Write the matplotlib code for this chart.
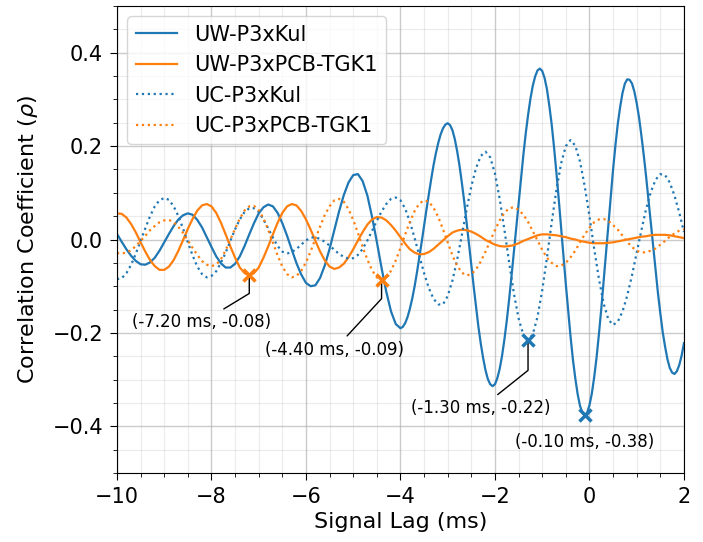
import numpy as np
import matplotlib
matplotlib.use("Agg")
import matplotlib.pyplot as plt
from matplotlib.ticker import MultipleLocator

# lag grid, 0.1 ms steps from -10 to 2 ms
lag = np.round(np.arange(-100, 21) / 10, 1)
# finer grid (0.05 ms) used for the large-amplitude part of UW-P3xKul
lag_fine = np.round(np.arange(-80, 41) / 20, 2)

# UW-P3xKul: -10.0 .. -4.1 (0.1 step), then -4.0 .. 2.0 (0.05 step)
uw_kul_early = [
    0.012, -0.005, -0.021, -0.035, -0.046, -0.053, -0.054, -0.049, -0.039, -0.024,
    -0.006, 0.012, 0.029, 0.043, 0.052, 0.056, 0.053, 0.042, 0.026, 0.005,
    -0.016, -0.036, -0.051, -0.060, -0.060, -0.052, -0.036, -0.014, 0.011, 0.035,
    0.056, 0.069, 0.075, 0.071, 0.057, 0.035, 0.008, -0.022, -0.051, -0.075,
    -0.093, -0.100, -0.098, -0.082, -0.055, -0.020, 0.020, 0.060, 0.095, 0.122,
    0.138, 0.140, 0.125, 0.094, 0.048, -0.005, -0.061, -0.112, -0.154, -0.181,
]
uw_kul_late = [
    -0.190, -0.187, -0.179, -0.166, -0.148, -0.126, -0.100, -0.070, -0.038, -0.005,
    0.030, 0.064, 0.097, 0.129, 0.159, 0.185, 0.207, 0.225, 0.238, 0.246,
    0.249, 0.245, 0.234, 0.215, 0.189, 0.158, 0.121, 0.081, 0.037, -0.009,
    -0.056, -0.101, -0.145, -0.187, -0.223, -0.254, -0.280, -0.299, -0.310, -0.314,
    -0.310, -0.297, -0.277, -0.249, -0.214, -0.174, -0.128, -0.079, -0.027, 0.026,
    0.079, 0.131, 0.180, 0.226, 0.266, 0.301, 0.329, 0.349, 0.362, 0.366,
    0.361, 0.346, 0.322, 0.287, 0.247, 0.198, 0.144, 0.086, 0.025, -0.035,
    -0.096, -0.153, -0.208, -0.257, -0.297, -0.331, -0.356, -0.371, -0.376, -0.371,
    -0.355, -0.330, -0.295, -0.253, -0.203, -0.149, -0.089, -0.028, 0.033, 0.093,
    0.150, 0.202, 0.248, 0.284, 0.314, 0.334, 0.343, 0.342, 0.334, 0.317,
    0.292, 0.261, 0.222, 0.180, 0.134, 0.084, 0.033, -0.018, -0.068, -0.115,
    -0.158, -0.198, -0.229, -0.256, -0.275, -0.285, -0.288, -0.282, -0.269, -0.249,
    -0.222,
]

uw_pcb = [
    0.056, 0.055, 0.047, 0.033, 0.015, -0.006, -0.026, -0.044, -0.057, -0.065,
    -0.065, -0.058, -0.044, -0.024, -0.001, 0.023, 0.044, 0.062, 0.073, 0.076,
    0.071, 0.057, 0.036, 0.011, -0.015, -0.039, -0.060, -0.072, -0.077, -0.072,
    -0.060, -0.039, -0.015, 0.011, 0.036, 0.057, 0.071, 0.076, 0.073, 0.061,
    0.043, 0.021, -0.003, -0.026, -0.045, -0.058, -0.063, -0.060, -0.052, -0.038,
    -0.021, -0.002, 0.016, 0.032, 0.043, 0.048, 0.047, 0.041, 0.031, 0.019,
    0.005, -0.009, -0.021, -0.028, -0.032, -0.031, -0.027, -0.020, -0.011, -0.002,
    0.007, 0.015, 0.019, 0.021, 0.020, 0.017, 0.012, 0.006, -0.001, -0.006,
    -0.011, -0.014, -0.015, -0.014, -0.012, -0.008, -0.003, 0.001, 0.005, 0.009,
    0.011, 0.011, 0.010, 0.009, 0.007, 0.005, 0.002, 0.000, -0.003, -0.005,
    -0.007, -0.008, -0.008, -0.008, -0.007, -0.006, -0.004, -0.002, 0.000, 0.002,
    0.004, 0.006, 0.007, 0.009, 0.010, 0.010, 0.010, 0.009, 0.007, 0.005,
    0.003,
]

uc_kul = [
    -0.085, -0.083, -0.072, -0.054, -0.030, -0.003, 0.024, 0.050, 0.071, 0.084,
    0.089, 0.085, 0.071, 0.050, 0.023, -0.006, -0.034, -0.058, -0.074, -0.081,
    -0.078, -0.068, -0.050, -0.028, -0.003, 0.022, 0.043, 0.059, 0.067, 0.067,
    0.059, 0.043, 0.024, 0.004, -0.014, -0.026, -0.030, -0.027, -0.020, -0.011,
    -0.002, 0.004, 0.005, 0.001, -0.005, -0.013, -0.022, -0.031, -0.037, -0.041,
    -0.040, -0.033, -0.020, -0.002, 0.019, 0.040, 0.060, 0.076, 0.087, 0.090,
    0.084, 0.066, 0.038, 0.003, -0.035, -0.072, -0.104, -0.127, -0.139, -0.139,
    -0.121, -0.088, -0.043, 0.010, 0.064, 0.114, 0.153, 0.179, 0.188, 0.176,
    0.141, 0.087, 0.021, -0.049, -0.115, -0.169, -0.204, -0.216, -0.203, -0.166,
    -0.109, -0.039, 0.036, 0.106, 0.163, 0.200, 0.213, 0.201, 0.167, 0.114,
    0.050, -0.020, -0.084, -0.137, -0.171, -0.183, -0.176, -0.154, -0.120, -0.077,
    -0.028, 0.020, 0.066, 0.102, 0.128, 0.140, 0.138, 0.122, 0.094, 0.058,
    0.016,
]

uc_pcb = [
    -0.029, -0.030, -0.028, -0.023, -0.014, -0.003, 0.008, 0.020, 0.029, 0.037,
    0.041, 0.042, 0.037, 0.027, 0.014, -0.002, -0.018, -0.033, -0.046, -0.054,
    -0.057, -0.054, -0.042, -0.023, 0.000, 0.023, 0.045, 0.062, 0.071, 0.072,
    0.063, 0.045, 0.021, -0.007, -0.034, -0.058, -0.074, -0.081, -0.078, -0.067,
    -0.049, -0.025, 0.002, 0.028, 0.053, 0.071, 0.084, 0.087, 0.081, 0.065,
    0.042, 0.014, -0.016, -0.043, -0.066, -0.081, -0.086, -0.081, -0.067, -0.045,
    -0.018, 0.011, 0.038, 0.061, 0.077, 0.084, 0.081, 0.068, 0.048, 0.022,
    -0.006, -0.034, -0.056, -0.071, -0.077, -0.074, -0.064, -0.047, -0.026, -0.003,
    0.020, 0.041, 0.057, 0.067, 0.069, 0.064, 0.053, 0.038, 0.018, -0.002,
    -0.022, -0.039, -0.050, -0.057, -0.056, -0.050, -0.038, -0.024, -0.006, 0.011,
    0.025, 0.037, 0.043, 0.044, 0.040, 0.031, 0.021, 0.008, -0.005, -0.016,
    -0.024, -0.028, -0.027, -0.024, -0.019, -0.011, -0.003, 0.006, 0.013, 0.019,
    0.022,
]

labels = ["UW-P3xKul", "UW-P3xPCB-TGK1", "UC-P3xKul", "UC-P3xPCB-TGK1"]

lag_kul = np.concatenate([lag[lag < -4.0], lag_fine])
uw_kul = np.array(uw_kul_early + uw_kul_late)

xs = [lag_kul, lag, lag, lag]
series = [uw_kul, np.array(uw_pcb), np.array(uc_kul), np.array(uc_pcb)]
colors = ["#1f77b4", "#ff7f0e", "#1f77b4", "#ff7f0e"]
styles = ["-", "-", ":", ":"]

# minimum marked on each curve: (series index, lag in ms)
mins = [(1, -7.2), (2, -1.3), (3, -4.4), (0, -0.1)]
text_off = {1: (-1.0, -0.10), 2: (-1.0, -0.145), 3: (-1.0, -0.15), 0: (0.0, -0.058)}
arm_len = {1: 18, 2: 30, 3: 19, 0: None}

fig = plt.figure(figsize=(7.03, 5.42), dpi=100)
ax = fig.add_axes([0.1664, 0.1273, 0.8065, 0.8616])

for x, ys, lbl, c, ls in zip(xs, series, labels, colors, styles):
    ax.plot(x, ys, ls, color=c, lw=1.6, label=lbl)

for si, xm in mins:
    i = int(np.argmin(np.abs(xs[si] - xm)))
    xv, yv = xs[si][i], series[si][i]
    ax.plot(xv, yv, "x", color=colors[si], ms=8, mew=2.5, zorder=5)
    dx, dy = text_off[si]
    arrow = None
    if arm_len[si]:
        arrow = dict(arrowstyle="-", color="black", lw=1.0,
                     connectionstyle=f"arc,angleA=0,armA=0,angleB=-90,armB={arm_len[si]},rad=0")
    ax.annotate(f"({xv:.2f} ms, {yv:.2f})", xy=(xv, yv), xytext=(xv + dx, yv + dy),
                ha="center", va="center", fontsize=12, arrowprops=arrow)

ax.set_xlim(-10, 2)
ax.set_ylim(-0.5, 0.5)
ax.xaxis.set_major_locator(MultipleLocator(2))
ax.xaxis.set_minor_locator(MultipleLocator(0.5))
ax.yaxis.set_major_locator(MultipleLocator(0.2))
ax.yaxis.set_minor_locator(MultipleLocator(0.05))
ax.grid(which="major", color="#b0b0b0", alpha=0.65, lw=1.0)
ax.grid(which="minor", color="#b0b0b0", alpha=0.25, lw=0.8)
ax.tick_params(which="major", labelsize=15, length=5, pad=5)
ax.tick_params(which="minor", length=3)
ax.set_xlabel("Signal Lag (ms)", fontsize=16)
ax.set_ylabel(r"Correlation Coefficient ($\rho$)", fontsize=16, labelpad=9)
ax.legend(loc="upper left", fontsize=15)

fig.savefig("out.png", dpi=100)
